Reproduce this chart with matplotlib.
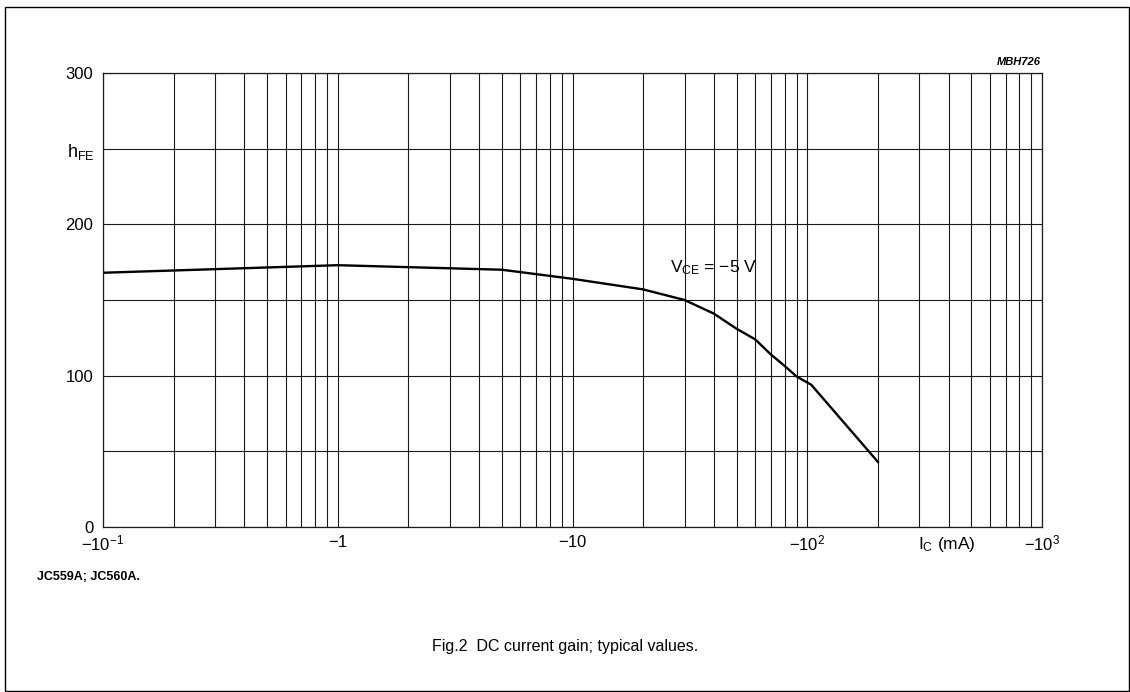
import numpy as np
import matplotlib
matplotlib.use('Agg')
import matplotlib.pyplot as plt
from matplotlib.patches import Rectangle
from matplotlib.ticker import FixedLocator, NullFormatter

plt.rcParams['font.family'] = ['Liberation Sans', 'DejaVu Sans']
plt.rcParams['mathtext.fontset'] = 'custom'
plt.rcParams['mathtext.rm'] = 'Liberation Sans'
plt.rcParams['mathtext.it'] = 'Liberation Sans:italic'

# collector current magnitude (mA) and DC current gain, VCE = -5 V
ic_ma = [0.1, 1, 5, 10, 20, 30, 40, 50, 60, 70, 80, 90, 104, 200]
hfe = [168, 173, 170, 164, 157, 150, 141, 131, 124, 114, 106.5, 99.5, 94, 43]

x_ticks = [0.1, 1, 10, 100, 1000]
x_labels = [r'$-10^{-1}$', r'$-1$', r'$-10$', r'$-10^{2}$', r'$-10^{3}$']
y_ticks = [0, 100, 200, 300]

fig = plt.figure(figsize=(11.3, 6.92), dpi=100)
ax = fig.add_axes([103/1130, 165/692, 939/1130, 454/692])

gc = '#1a1a1a'
ax.set_xscale('log')
ax.set_xlim(0.1, 1000)
ax.set_ylim(0, 300)

minor = [m * 10.0**e for e in range(-1, 3) for m in range(2, 10)]
ax.xaxis.set_major_locator(FixedLocator(x_ticks))
ax.xaxis.set_minor_locator(FixedLocator(minor))
ax.xaxis.set_minor_formatter(NullFormatter())
ax.set_xticklabels(x_labels)
ax.set_yticks(y_ticks)
ax.yaxis.set_minor_locator(FixedLocator([50, 150, 250]))

ax.grid(True, which='both', color=gc, lw=0.8)
ax.tick_params(which='both', length=0, labelsize=12, colors='black')
ax.tick_params(axis='x', pad=5)
ax.tick_params(axis='y', pad=7)
for s in ax.spines.values():
    s.set_color(gc)
    s.set_linewidth(0.9)

ax.plot(ic_ma, hfe, color='black', lw=1.7, solid_joinstyle='miter')

fig.text(670/1130, 1 - 268/692, r'$\mathregular{V_{CE}}$ = −5 V', fontsize=12.5,
         ha='left', va='center')
fig.text(67/1130, 1 - 152/692, r'$\mathregular{h_{FE}}$', fontsize=13, ha='left', va='center')
fig.text(947/1130, 1 - 545/692, r'$\mathregular{I_C}$ (mA)', fontsize=12.5, ha='center', va='center')
fig.text(1041/1130, 1 - 62/692, 'MBH726', fontsize=8, style='italic', weight='bold',
         ha='right', va='center')
fig.text(37/1130, 1 - 577/692, 'JC559A; JC560A.', fontsize=9, weight='bold',
         ha='left', va='center')
fig.text(565/1130, 1 - 646/692, 'Fig.2  DC current gain; typical values.', fontsize=11.5,
         ha='center', va='center')

fig.patches.append(Rectangle((5/1130, 1/692), 1124/1130, 684/692, transform=fig.transFigure,
                             fill=False, ec='black', lw=1.0))

fig.savefig('out.png', dpi=100)
